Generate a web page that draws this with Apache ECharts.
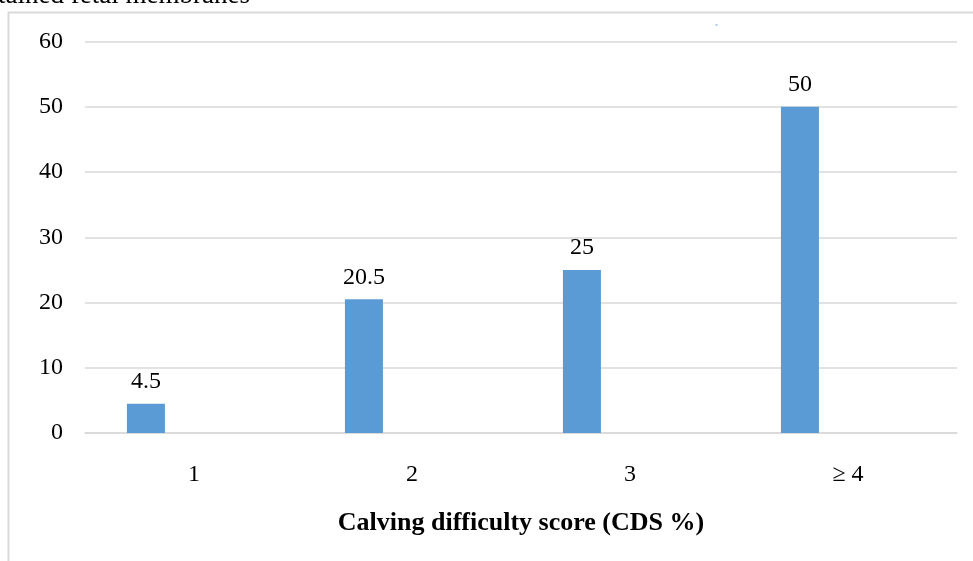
<!DOCTYPE html>
<html>
<head>
<meta charset="utf-8">
<script src="https://cdn.jsdelivr.net/npm/echarts@6/dist/echarts.min.js"></script>
<style>
  html, body { margin: 0; padding: 0; background: #fff; }
  #chart { width: 973px; height: 561px; }
</style>
</head>
<body>
<div id="chart"></div>
<script>
// Calving difficulty score categories and the share of cases in each
const categories = ['1', '2', '3', '\u2265 4'];
const cdsValues = [4.5, 20.5, 25, 50];
// Companion series with no values (keeps the bars left of each category centre)
const emptyValues = [null, null, null, null];
const yTicks = { min: 0, max: 60, interval: 10 };

const serif = '"Liberation Serif", "DejaVu Serif", serif';
const gridColor = '#d9d9d9';

const chart = echarts.init(document.getElementById('chart'), null, { renderer: 'canvas' });

chart.setOption({
  animation: false,
  backgroundColor: '#ffffff',
  grid: { left: 85, right: 16, top: 41.5, bottom: 128, containLabel: false },
  graphic: [
    {
      type: 'rect',
      shape: { x: 8.5, y: 12.5, width: 1000, height: 600 },
      style: { fill: 'none', stroke: gridColor, lineWidth: 2 },
      silent: true
    },
    {
      type: 'text',
      x: -2,
      y: 9,
      style: {
        text: 'tained fetal membranes',
        font: '27px ' + serif,
        fill: '#000',
        verticalAlign: 'bottom',
        align: 'left'
      },
      silent: true
    },
    {
      type: 'rect',
      shape: { x: 715.5, y: 24.5, width: 2, height: 1 },
      style: { fill: '#5b9bd5' },
      silent: true
    }
  ],
  xAxis: {
    type: 'category',
    data: categories,
    axisLine: { show: true, lineStyle: { color: gridColor, width: 1.5 } },
    axisTick: { show: false },
    axisLabel: { color: '#000', fontFamily: serif, fontSize: 24, margin: 30 },
    name: 'Calving difficulty score (CDS %)',
    nameLocation: 'middle',
    nameGap: 77,
    nameTextStyle: { color: '#000', fontFamily: serif, fontSize: 26, fontWeight: 'bold', verticalAlign: 'top' }
  },
  yAxis: {
    type: 'value',
    min: yTicks.min,
    max: yTicks.max,
    interval: yTicks.interval,
    axisLine: { show: false },
    axisTick: { show: false },
    axisLabel: { color: '#000', fontFamily: serif, fontSize: 24, margin: 22 },
    splitLine: { lineStyle: { color: gridColor, width: 1.5 } }
  },
  series: [
    {
      type: 'bar',
      data: cdsValues,
      barWidth: 38,
      barGap: '153%',
      itemStyle: { color: '#5b9bd5' },
      label: {
        show: true,
        position: 'top',
        distance: 10,
        color: '#000',
        fontFamily: serif,
        fontSize: 24
      }
    },
    {
      type: 'bar',
      data: emptyValues,
      barWidth: 38,
      itemStyle: { color: '#ed7d31' }
    }
  ]
});
</script>
</body>
</html>
